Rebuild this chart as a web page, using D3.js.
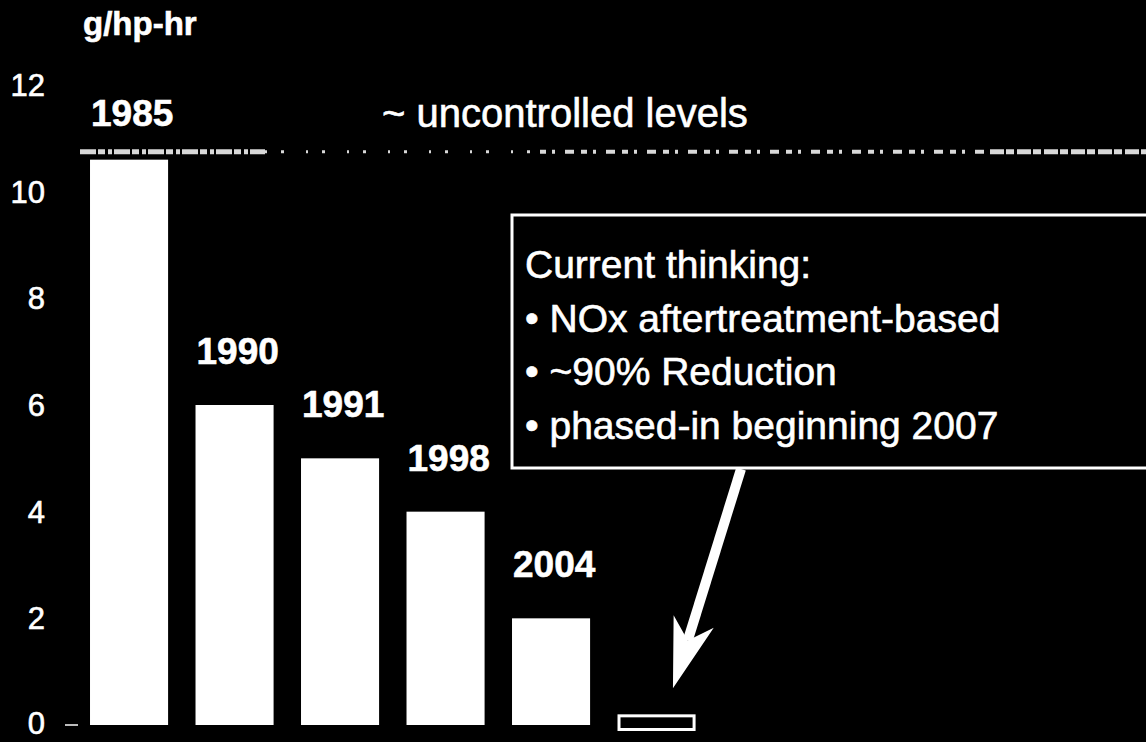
<!DOCTYPE html>
<html>
<head>
<meta charset="utf-8">
<script src="https://cdn.jsdelivr.net/npm/d3@7"></script>
<style>
  html, body { margin: 0; padding: 0; background: #000; }
  svg { display: block; }
  text { font-family: "Liberation Sans", Arial, sans-serif; fill: #fff; stroke: #fff; stroke-width: 0.6px; }
</style>
</head>
<body>
<svg id="chart"></svg>
<script>
// NOx limits, g/hp-hr
const years = ["1985", "1990", "1991", "1998", "2004", "2007"]
const noxLimits = [10.6, 6.0, 5.0, 4.0, 2.0, 0.2]
const labeledYears = ["1985", "1990", "1991", "1998", "2004"]
const proposedYears = ["2007"]
const yTicks = [0, 2, 4, 6, 8, 10, 12]
const uncontrolledLevel = 10.75
const noteLines = [
	"Current thinking:",
	"\u2022 NOx aftertreatment-based",
	"\u2022 ~90% Reduction",
	"\u2022 phased-in beginning 2007"
]

const data = years.map((d, i) => ({year: d, value: noxLimits[i]}))

const width = 1146
const height = 742

const svg = d3.select("#chart")
	.attr("width", width)
	.attr("height", height)

svg.append("rect")
	.attr("width", width)
	.attr("height", height)
	.attr("fill", "#000")

const x = d3.scaleBand()
	.domain(years)
	.range([76.3, 709.3])
	.paddingInner(0.26)
	.paddingOuter(0.13)

const y = d3.scaleLinear()
	.domain([0, 12])
	.range([725, 85])

// y axis: labels only, plus the little dash at zero
const yAxis = svg.append("g")
	.attr("transform", "translate(45,0)")
	.call(d3.axisLeft(y).tickValues(yTicks).tickSize(0).tickPadding(0))

yAxis.select(".domain").remove()
yAxis.selectAll("text")
	.attr("fill", "#fff")
	.style("font-family", "'Liberation Sans', Arial, sans-serif")
	.style("font-size", "31px")
	.attr("dy", d => d === 0 ? "0.26em" : "0.34em")

svg.append("line")
	.attr("x1", 65)
	.attr("x2", 78)
	.attr("y1", y(0))
	.attr("y2", y(0))
	.attr("stroke", "#bbb")
	.attr("stroke-width", 2)

// unit title
svg.append("text")
	.attr("x", 83)
	.attr("y", 35)
	.style("font-size", "33px")
	.style("font-weight", "bold")
	.text("g/hp-hr")

// uncontrolled level, a ragged dashed line
const yu = y(uncontrolledLevel)
const dashes = [
	{x1: 80, x2: 265, dash: "16,2,7,3,4,2", w: 5},
	{x1: 265, x2: 540, dash: "2,14,3,22", w: 3},
	{x1: 540, x2: 990, dash: "6,6,3,10,9,7", w: 4},
	{x1: 990, x2: width, dash: "14,2,8,3", w: 5}
]
svg.selectAll(".uncontrolled")
	.data(dashes)
	.join("line")
	.attr("class", "uncontrolled")
	.attr("x1", d => d.x1)
	.attr("x2", d => d.x2)
	.attr("y1", yu)
	.attr("y2", yu)
	.attr("stroke", "#d8d8d8")
	.attr("stroke-width", d => d.w)
	.attr("stroke-dasharray", d => d.dash)

svg.append("text")
	.attr("x", 382)
	.attr("y", 127)
	.style("font-size", "40px")
	.text("~ uncontrolled levels")

// bars
svg.selectAll(".bar")
	.data(data.filter(d => !proposedYears.includes(d.year)))
	.join("rect")
	.attr("class", "bar")
	.attr("x", d => x(d.year))
	.attr("y", d => y(d.value))
	.attr("width", x.bandwidth())
	.attr("height", d => y(0) - y(d.value))
	.attr("fill", "#fff")

svg.selectAll(".proposed")
	.data(data.filter(d => proposedYears.includes(d.year)))
	.join("rect")
	.attr("class", "proposed")
	.attr("x", d => x(d.year) + 1.5)
	.attr("y", d => y(d.value) + 1.5)
	.attr("width", x.bandwidth() - 3)
	.attr("height", d => y(0) - y(d.value) + 3)
	.attr("fill", "none")
	.attr("stroke", "#fff")
	.attr("stroke-width", 3)

// year labels above bars
svg.selectAll(".year")
	.data(data.filter(d => labeledYears.includes(d.year)))
	.join("text")
	.attr("class", "year")
	.attr("x", d => x(d.year) + 1)
	.attr("y", (d, i) => i === 0 ? yu - 26 : y(d.value) - 41)
	.style("font-size", "37px")
	.style("font-weight", "bold")
	.text(d => d.year)

// note box
const box = {x: 512, y: 215, w: 660, h: 253}

svg.append("rect")
	.attr("x", box.x)
	.attr("y", box.y)
	.attr("width", box.w)
	.attr("height", box.h)
	.attr("fill", "#000")
	.attr("stroke", "#fff")
	.attr("stroke-width", 3)

svg.selectAll(".note")
	.data(noteLines)
	.join("text")
	.attr("class", "note")
	.attr("x", box.x + 13)
	.attr("y", (d, i) => box.y + 63 + i * 53.5)
	.style("font-size", "39px")
	.text(d => d)

// arrow from the box down to the 2007 target
const target = data.find(d => d.year === "2007")
const tip = [x(target.year) + x.bandwidth() * 0.71, y(target.value) - 26]
const start = [741, box.y + box.h + 1]
const len = Math.hypot(tip[0] - start[0], tip[1] - start[1])
const dir = [(tip[0] - start[0]) / len, (tip[1] - start[1]) / len]
const perp = [-dir[1], dir[0]]
const at = (back, side) => [
	tip[0] - dir[0] * back + perp[0] * side,
	tip[1] - dir[1] * back + perp[1] * side
]

svg.append("line")
	.attr("x1", start[0])
	.attr("y1", start[1])
	.attr("x2", at(50, 0)[0])
	.attr("y2", at(50, 0)[1])
	.attr("stroke", "#fff")
	.attr("stroke-width", 10)

svg.append("polygon")
	.attr("points", [tip, at(70, 21), at(50, 0), at(70, -21)].map(p => p.join(",")).join(" "))
	.attr("fill", "#fff")
</script>
</body>
</html>
